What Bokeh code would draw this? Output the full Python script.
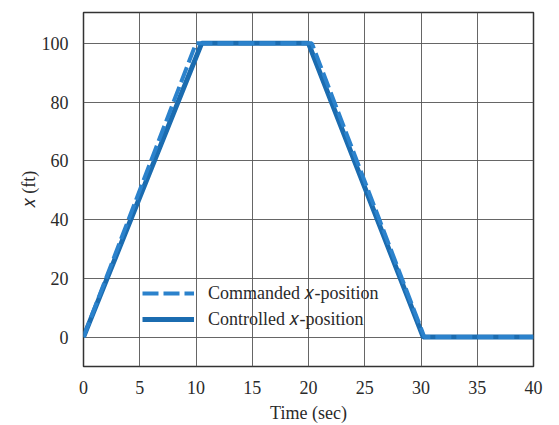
from bokeh.plotting import figure
from bokeh.models import FixedTicker, Legend, LegendItem, Range1d
from bokeh.embed import file_html
from bokeh.resources import INLINE

# Data
cmd_t = [0, 10, 20.3, 30.3, 40]
cmd_x = [0, 100, 100, 0, 0]
ctl_t = [0, 10.5, 20.0, 30.2, 40]
ctl_x = [0, 100, 100, 0, 0]
x_ticks = [0, 5, 10, 15, 20, 25, 30, 35, 40]
y_ticks = [0, 20, 40, 60, 80, 100]
labels = ["Commanded \U0001D465-position", "Controlled \U0001D465-position"]

SERIF = "Liberation Serif"

p = figure(width=559, height=425, output_backend="svg", toolbar_location=None,
           x_range=Range1d(0, 40), y_range=Range1d(-10, 110.5),
           min_border_left=83, min_border_right=26, min_border_top=12, min_border_bottom=56)
p.background_fill_color = "white"
p.border_fill_color = "white"
p.outline_line_color = "#333333"
p.outline_line_width = 1.5

for ax in (p.xaxis[0], p.yaxis[0]):
    ax.axis_line_color = None
    ax.major_tick_line_color = None
    ax.minor_tick_line_color = None
    ax.major_label_text_font = SERIF
    ax.major_label_text_font_size = "18px"
    ax.major_label_text_color = "#2a2a2a"
    ax.axis_label_text_font = SERIF
    ax.axis_label_text_font_size = "18px"
    ax.axis_label_text_font_style = "normal"
    ax.axis_label_text_color = "#2a2a2a"

p.xaxis.ticker = FixedTicker(ticks=x_ticks)
p.yaxis.ticker = FixedTicker(ticks=y_ticks)
p.xaxis.major_label_standoff = 8
p.yaxis.major_label_standoff = 9
p.xaxis.axis_label = "Time (sec)"
p.yaxis.axis_label = "\U0001D465 (ft)"
p.xaxis.axis_label_standoff = 6
p.yaxis.axis_label_standoff = 0

p.xgrid.ticker = FixedTicker(ticks=x_ticks)
p.ygrid.ticker = FixedTicker(ticks=y_ticks)
for g in (p.xgrid[0], p.ygrid[0]):
    g.grid_line_color = "#555555"
    g.grid_line_width = 1
    g.grid_line_alpha = 0.9

r_ctl = p.line(ctl_t, ctl_x, line_color="#1b6cb0", line_width=5)
r_cmd = p.line(cmd_t, cmd_x, line_color="#2b82cc", line_width=4, line_dash="16 5")

legend = Legend(items=[LegendItem(label=labels[0], renderers=[r_cmd]),
                       LegendItem(label=labels[1], renderers=[r_ctl])],
                location=(59, 34), orientation="vertical",
                background_fill_alpha=0, border_line_color=None,
                padding=0, margin=0, spacing=0,
                glyph_width=52, glyph_height=26, label_height=26,
                label_standoff=14,
                label_text_font=SERIF, label_text_font_size="18px",
                label_text_color="#2a2a2a")
p.add_layout(legend, "center")

open("out.html", "w").write(file_html(p, INLINE))
